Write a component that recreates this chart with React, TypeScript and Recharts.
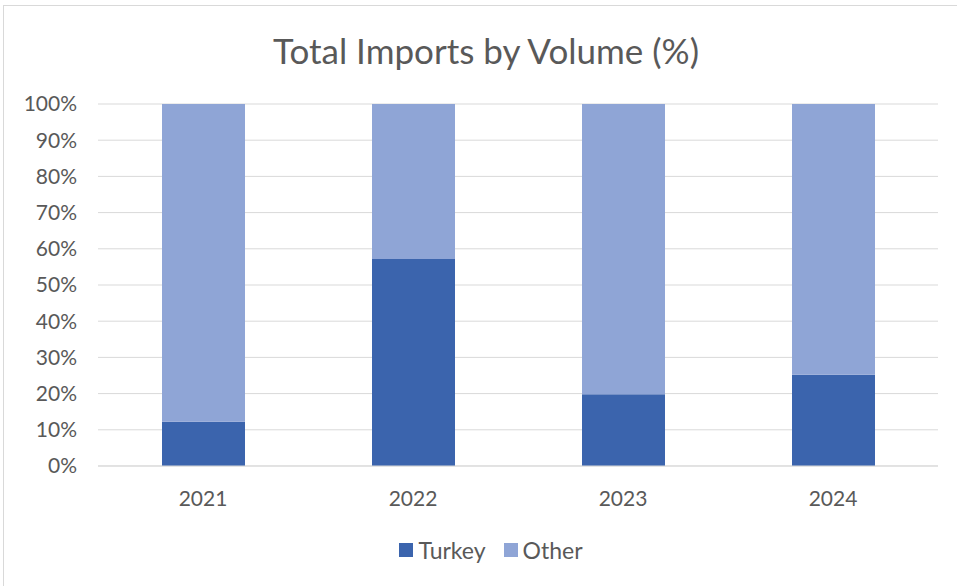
import React from 'react';
import { BarChart, Bar, XAxis, YAxis, CartesianGrid, Legend } from 'recharts';

const years = ['2021', '2022', '2023', '2024'];
const turkey = [12.2, 57.2, 19.8, 25.2];
const other = [87.8, 42.8, 80.2, 74.8];
const yTicks = [0, 0.1, 0.2, 0.3, 0.4, 0.5, 0.6, 0.7, 0.8, 0.9, 1];
const seriesNames = ['Turkey', 'Other'];

const TURKEY_COLOR = '#3B64AD';
const OTHER_COLOR = '#8FA5D6';
const COLORS = [TURKEY_COLOR, OTHER_COLOR];
const TEXT = '#595959';
const FONT = 'Lato, "Open Sans", sans-serif';

const data = years.map((y, i) => ({ year: y, Turkey: turkey[i], Other: other[i] }));

// legenda propia para mantener el orden Turkey / Other
const renderLegend = () => (
  <div style={{ display: 'flex', justifyContent: 'center', alignItems: 'center', height: 30, paddingLeft: 36 }}>
    {seriesNames.map((name, i) => (
      <div key={name} style={{ display: 'flex', alignItems: 'center', marginRight: i === 0 ? 18 : 0 }}>
        <span style={{ width: 14, height: 14, background: COLORS[i], display: 'inline-block', marginRight: 5 }} />
        <span style={{ color: TEXT, fontSize: 23, fontFamily: FONT }}>{name}</span>
      </div>
    ))}
  </div>
);

export default function App() {
  return (
    <div
      style={{
        position: 'absolute',
        left: 0,
        top: 0,
        width: 957,
        height: 586,
        background: '#fff',
        fontFamily: FONT,
      }}
    >
      {/* marco del gráfico */}
      <div
        style={{
          position: 'absolute',
          left: 3,
          top: 5,
          width: 960,
          height: 590,
          border: '1px solid #d9d9d9',
          boxSizing: 'border-box',
        }}
      />
      <div
        style={{
          position: 'absolute',
          left: 0,
          top: 27,
          width: 972,
          textAlign: 'center',
          fontSize: 35,
          color: TEXT,
          lineHeight: '46px',
        }}
      >
        Total Imports by Volume (%)
      </div>
      <BarChart
        width={957}
        height={586}
        data={data}
        stackOffset="expand"
        margin={{ top: 104, right: 19, bottom: 21, left: 8 }}
        style={{ position: 'absolute', left: 0, top: 0 }}
      >
        <CartesianGrid vertical={false} stroke="#d9d9d9" strokeWidth={1} />
        <XAxis
          dataKey="year"
          height={69}
          tickLine={false}
          axisLine={{ stroke: '#d9d9d9' }}
          tick={{ fill: TEXT, fontSize: 21, fontFamily: FONT }}
          tickMargin={19}
        />
        <YAxis
          width={90}
          domain={[0, 1]}
          ticks={yTicks}
          interval={0}
          tickFormatter={(v: number) => `${Math.round(v * 100)}%`}
          axisLine={false}
          tickLine={false}
          tickSize={0}
          tickMargin={21}
          tick={{ fill: TEXT, fontSize: 21, fontFamily: FONT }}
        />
        <Legend
          verticalAlign="bottom"
          align="center"
          wrapperStyle={{ height: 30 }}
          content={renderLegend}
        />
        <Bar dataKey="Turkey" stackId="a" fill={TURKEY_COLOR} barSize={83} isAnimationActive={false} />
        <Bar dataKey="Other" stackId="a" fill={OTHER_COLOR} barSize={83} isAnimationActive={false} />
      </BarChart>
    </div>
  );
}
